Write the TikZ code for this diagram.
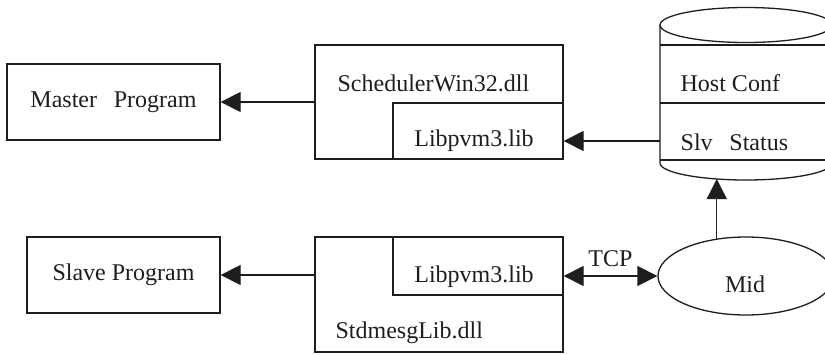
\documentclass[tikz,border=0pt]{standalone}
\usepackage{fontspec}
\setmainfont{Liberation Serif}
\usetikzlibrary{arrows.meta,shapes.geometric}
\definecolor{ink}{HTML}{1E1E1E}
\begin{document}
\begin{tikzpicture}[x=1pt,y=1pt,
  line width=1.3pt, draw=ink,
  box/.style={draw=ink, rectangle, inner sep=0pt},
  tip/.tip={Triangle[length=20pt,width=20pt]},
  arr/.style={draw=ink, -tip},
  dblarr/.style={draw=ink, tip-tip},
  lbl/.style={font=\fontsize{24}{28}\selectfont, text=ink, inner sep=0pt},
]
\clip (0,0) rectangle (825,354);
\fill[white] (0,0) rectangle (825,354);

% application programs
\node[box, minimum width=213pt, minimum height=76pt] (master) at (113.5,252) {};
\node[lbl] (mastertxt) at (master.center) {Master\hspace{0.45em} Program};
\node[box, minimum width=193pt, minimum height=76pt] (slave) at (123.5,79) {};
\node[lbl] (slavetxt) at (slave.center) {Slave Program};

% scheduler library with embedded pvm library
\node[box, minimum width=248pt, minimum height=114pt] (sched) at (439,252) {};
\node[box, minimum width=170pt, minimum height=56pt] (lib1) at (478,223) {};
\node[lbl, anchor=west] (schedtxt) at (337,271) {SchedulerWin32.dll};
\node[lbl] (lib1txt) at (474,213) {Libpvm3.lib};

% message library with embedded pvm library
\node[box, minimum width=248pt, minimum height=115pt] (std) at (439,59.5) {};
\node[box, minimum width=170pt, minimum height=58pt] (lib2) at (478,88) {};
\node[lbl] (lib2txt) at (474,77) {Libpvm3.lib};
\node[lbl, anchor=west] (stdtxt) at (335,21) {StdmesgLib.dll};

% middleware
\node[draw=ink, ellipse, minimum width=176pt, minimum height=78pt, inner sep=0pt] (mid) at (746,78) {};
\node[lbl] (midtxt) at (745,70) {Mid};

% database cylinder
\draw (746,329) ellipse [x radius=86pt, y radius=17.5pt];
\draw (660,329) -- (660,191) arc[start angle=180, end angle=360, x radius=86pt, y radius=17pt];
\draw (660,309) -- (832,309);
\draw (660,251) -- (832,251);
\draw (660,194) -- (832,194);
\node[lbl, anchor=west] (hosttxt) at (680,271) {Host Conf};
\node[lbl, anchor=west] (slvtxt) at (680,212) {Slv\hspace{0.45em} Status};
\coordinate (dbW) at (660,213);
\coordinate (dbB) at (717,175);

% connectors
\draw[arr] (sched.west) -- (master.east);
\draw[arr] (dbW) -- (dbW -| lib1.east);
\draw[arr] (slave.east -| std.west) -- (slave.east);
\draw[dblarr] (mid.west -| lib2.east) -- (mid.west) node[lbl, midway, above=9pt] (tcp) {TCP};
\draw[arr] (mid.128) -- (mid.128 |- dbB);
\end{tikzpicture}
\end{document}
